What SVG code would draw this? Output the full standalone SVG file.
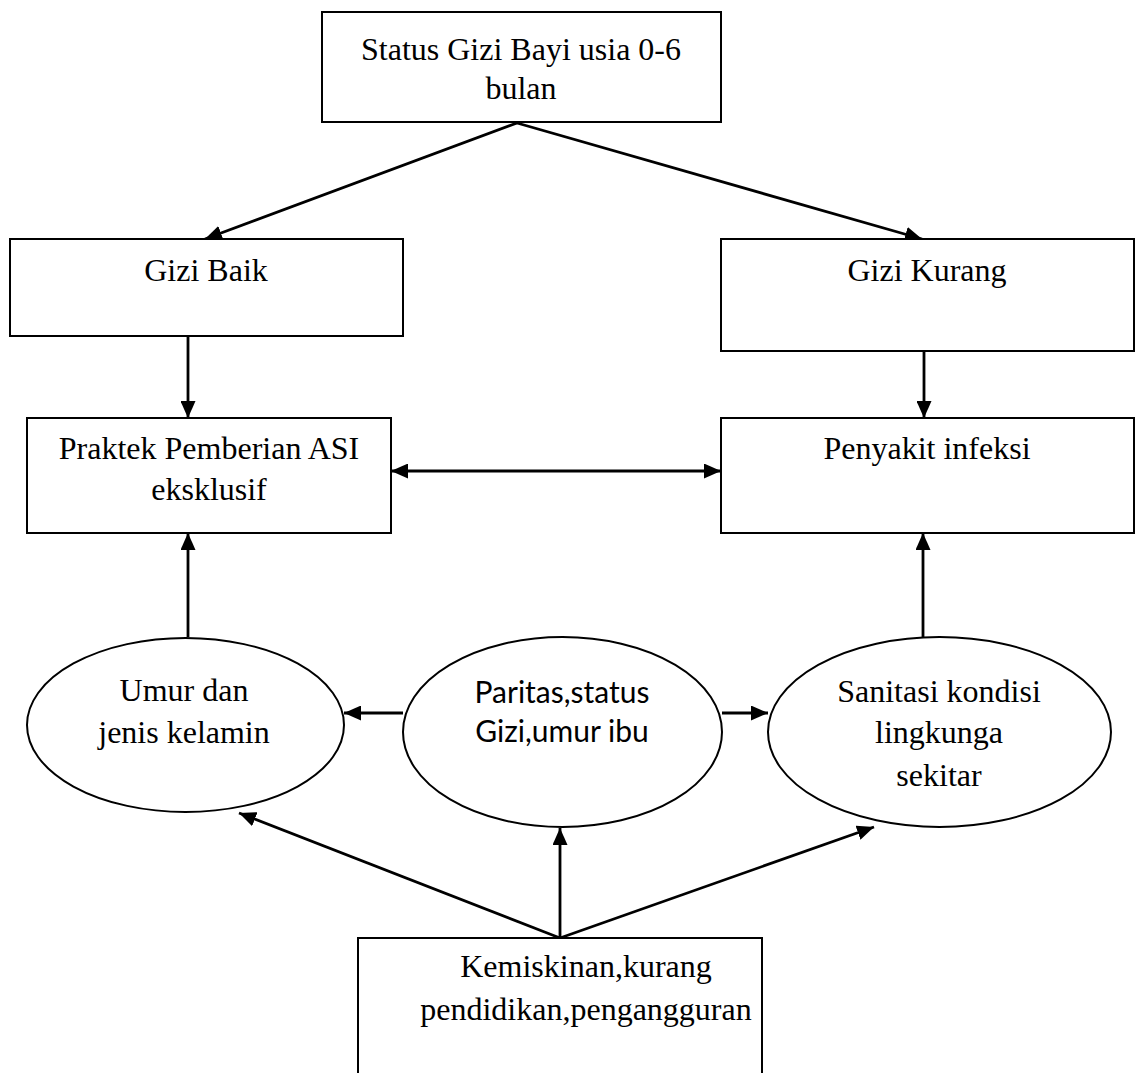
<svg xmlns="http://www.w3.org/2000/svg" width="1136" height="1073" viewBox="0 0 1136 1073">
<defs>
<style>
.box{fill:#fff;stroke:#000;stroke-width:2}
.ell{fill:#fff;stroke:#000;stroke-width:2}
.t{font-family:"Liberation Serif","Times New Roman",serif;font-size:32px;fill:#000;text-anchor:middle}
.s{font-family:Lato,"Open Sans",sans-serif;font-size:30px;fill:#000;text-anchor:middle}
.c{fill:none;stroke:#000;stroke-width:2.8}
</style>
<marker id="ah" markerUnits="userSpaceOnUse" markerWidth="17" markerHeight="15" refX="17" refY="7.5" orient="auto-start-reverse" viewBox="0 0 17 15">
<path d="M0,0 L17,7.5 L0,15 Z" fill="#000"/>
</marker>
</defs>
<rect width="1136" height="1073" fill="#fff"/>
<g id="connectors">
<line class="c" x1="517" y1="123" x2="205" y2="239" marker-end="url(#ah)"/>
<line class="c" x1="517" y1="123" x2="922" y2="239" marker-end="url(#ah)"/>
<line class="c" x1="188" y1="336" x2="188" y2="418" marker-end="url(#ah)"/>
<line class="c" x1="924" y1="351" x2="924" y2="418" marker-end="url(#ah)"/>
<line class="c" x1="391" y1="471" x2="721" y2="471" marker-start="url(#ah)" marker-end="url(#ah)"/>
<line class="c" x1="188" y1="637" x2="188" y2="533" marker-end="url(#ah)"/>
<line class="c" x1="923" y1="637" x2="923" y2="533" marker-end="url(#ah)"/>
<line class="c" x1="403" y1="713" x2="344" y2="713" marker-end="url(#ah)"/>
<line class="c" x1="722" y1="713" x2="768" y2="713" marker-end="url(#ah)"/>
<line class="c" x1="560" y1="938" x2="239" y2="813" marker-end="url(#ah)"/>
<line class="c" x1="560" y1="938" x2="560" y2="828" marker-end="url(#ah)"/>
<line class="c" x1="560" y1="938" x2="874" y2="827" marker-end="url(#ah)"/>
</g>
<g id="status">
<rect class="box" x="322" y="12" width="399" height="110"/>
<text class="t" x="521" y="60">Status Gizi Bayi usia 0-6</text>
<text class="t" x="521" y="99">bulan</text>
</g>
<g id="gizi-baik">
<rect class="box" x="10" y="239" width="393" height="97"/>
<text class="t" x="206" y="281">Gizi Baik</text>
</g>
<g id="gizi-kurang">
<rect class="box" x="721" y="239" width="413" height="112"/>
<text class="t" x="927" y="281">Gizi Kurang</text>
</g>
<g id="praktek">
<rect class="box" x="27" y="418" width="364" height="115"/>
<text class="t" x="209" y="459">Praktek Pemberian ASI</text>
<text class="t" x="209" y="500">eksklusif</text>
</g>
<g id="penyakit">
<rect class="box" x="721" y="418" width="413" height="115"/>
<text class="t" x="927" y="459">Penyakit infeksi</text>
</g>
<g id="umur">
<ellipse class="ell" cx="185.5" cy="725" rx="158.5" ry="87"/>
<text class="t" x="184" y="701">Umur dan</text>
<text class="t" x="184" y="743">jenis kelamin</text>
</g>
<g id="paritas">
<ellipse class="ell" cx="562.5" cy="732" rx="159.5" ry="95"/>
<text class="s" x="562" y="703">Paritas,status</text>
<text class="s" x="562" y="742">Gizi,umur ibu</text>
</g>
<g id="sanitasi">
<ellipse class="ell" cx="939.5" cy="732" rx="171.5" ry="95"/>
<text class="t" x="939" y="702">Sanitasi kondisi</text>
<text class="t" x="939" y="743">lingkunga</text>
<text class="t" x="939" y="786">sekitar</text>
</g>
<g id="kemiskinan">
<path class="box" d="M358,1075 L358,938 L762,938 L762,1075"/>
<text class="t" x="586" y="977">Kemiskinan,kurang</text>
<text class="t" x="586" y="1020">pendidikan,pengangguran</text>
</g>
</svg>
